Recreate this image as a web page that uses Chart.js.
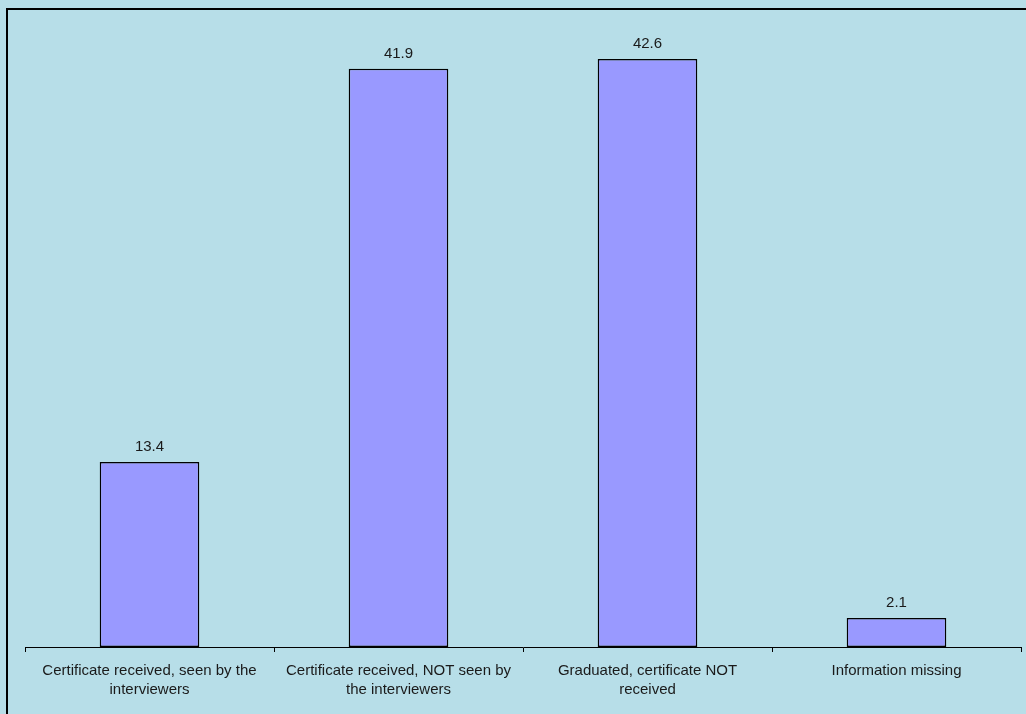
<!DOCTYPE html>
<html>
<head>
<meta charset="utf-8">
<script src="https://cdn.jsdelivr.net/npm/chart.js@4/dist/chart.umd.min.js"></script>
<style>
  html, body { margin: 0; padding: 0; background: #B7DEE8; overflow: hidden; }
  #wrap { position: relative; width: 1026px; height: 714px; background: #B7DEE8; }
  #frame { position: absolute; left: 6px; top: 8px; width: 1040px; height: 730px; border-left: 2px solid #000; border-top: 2px solid #000; box-sizing: border-box; pointer-events: none; }
  canvas { position: absolute; left: 0; top: 0; }
</style>
</head>
<body>
<div id="wrap">
  <canvas id="c" width="1026" height="714"></canvas>
  <div id="frame"></div>
</div>
<script>
// Graduation certificate status, percent of respondents
const categories = [
  ["Certificate received, seen by the", "interviewers"],
  ["Certificate received, NOT seen by", "the interviewers"],
  ["Graduated, certificate NOT", "received"],
  ["Information missing"]
];
const percentages = [13.4, 41.9, 42.6, 2.1];

const FONT = "'Liberation Sans', Arial, sans-serif";

// Writes each bar's value centred just above it
const valueLabels = {
  id: 'valueLabels',
  afterDatasetsDraw(chart) {
    const ctx = chart.ctx;
    const meta = chart.getDatasetMeta(0);
    ctx.save();
    ctx.font = '15px ' + FONT;
    ctx.fillStyle = '#1a1a1a';
    ctx.textAlign = 'center';
    ctx.textBaseline = 'alphabetic';
    meta.data.forEach((bar, i) => {
      ctx.fillText(percentages[i].toFixed(1), bar.x, bar.y - 11);
    });
    ctx.restore();
  }
};

new Chart(document.getElementById('c'), {
  type: 'bar',
  data: {
    labels: categories,
    datasets: [{
      data: percentages,
      backgroundColor: '#9999FF',
      borderColor: '#000000',
      borderWidth: 1.5,
      borderSkipped: false,
      barPercentage: 0.8,
      categoryPercentage: 0.5
    }]
  },
  options: {
    responsive: false,
    animation: false,
    layout: { padding: { left: 25, right: 5, top: 26, bottom: 0 } },
    plugins: { legend: { display: false }, tooltip: { enabled: false } },
    scales: {
      x: {
        offset: true,
        grid: {
          offset: true,
          drawOnChartArea: false,
          drawTicks: true,
          tickLength: 5,
          color: '#000000',
          lineWidth: 1
        },
        border: { display: true, color: '#000000', width: 1 },
        ticks: {
          color: '#1a1a1a',
          padding: 9,
          maxRotation: 0,
          autoSkip: false,
          font: { family: FONT, size: 15, lineHeight: 1.267 }
        },
        afterFit(scale) { scale.height = 67; }
      },
      y: {
        display: false,
        min: 0,
        max: 45
      }
    }
  },
  plugins: [valueLabels]
});
</script>
</body>
</html>
